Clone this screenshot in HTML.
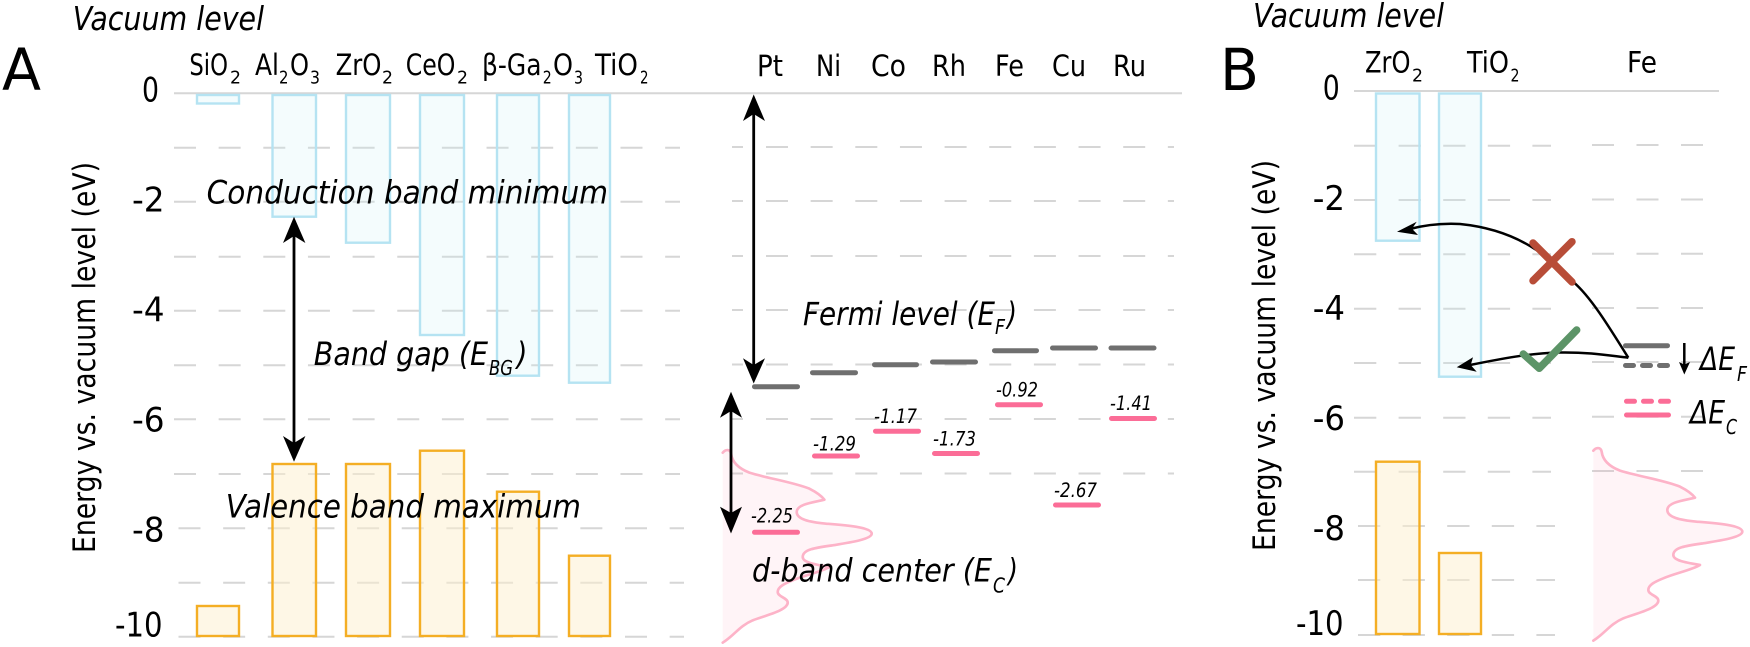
<!DOCTYPE html>
<html><head><meta charset="utf-8"><style>
html,body{margin:0;padding:0;background:#fff}
svg{display:block}
text{font-family:"DejaVu Sans","Liberation Sans",sans-serif;fill:#000}
.i{font-style:italic}
.lab{font-size:29px}.sub{font-size:18px}
.tick{font-size:34px}
.big{font-size:32px;font-style:italic}
.bs{font-size:20px;font-style:italic}
.val{font-size:19.5px;font-style:italic}
</style></head><body>
<svg width="1750" height="647" viewBox="0 0 1750 647" xmlns="http://www.w3.org/2000/svg">
<rect width="1750" height="647" fill="#fff"/>
<g fill="none" stroke="#d6d6d6" stroke-width="2">
<path stroke-dasharray="22 22.65" d="M174 147.7H680M174 201.7H680M174 256.7H680M174 310.7H680M174 365.3H680M174 419.3H680M174 474H680"/>
<path stroke-dasharray="22 22.65" d="M178.5 528.3H684M178.5 582.7H684M178.5 636.7H684"/>
<path d="M732 147H743M732 201H743M732 256H743M732 310H743M732 364.5H743M732 419H743M732 473.5H743"/>
<path stroke-dasharray="22 22.65" d="M766 147H1174M766 201H1174M766 256H1174M766 310H1174M766 364.5H1174M766 419H1174M766 473.5H1174"/>
<path stroke-dasharray="22.3 22.3" d="M1354 145.7H1551M1354 200H1551M1354 254.3H1551M1354 308.7H1551M1354 363H1551M1354 417.7H1551M1354 471.7H1551"/>
<path stroke-dasharray="22.3 22.3" d="M1358 526H1555M1358 580H1555M1358 635H1555"/>
<path stroke-dasharray="22 22.5" d="M1592 145H1703M1592 199.5H1703M1592 253.7H1703M1592 308H1703M1592 362H1703M1592 416.7H1703M1592 471H1703"/>
<path d="M174 93.3H1182M1354 91H1719"/>
</g>
<g stroke="#b5e3f2" stroke-width="2.4" fill="#c6eef6" fill-opacity=".2">
<rect x="197" y="95" width="42" height="8.5"/>
<rect x="272.5" y="95" width="43.5" height="121.7"/>
<rect x="346" y="95" width="44" height="147.7"/>
<rect x="420" y="95" width="44" height="240"/>
<rect x="497" y="95" width="42" height="280.7"/>
<rect x="569" y="95" width="41" height="287.7"/>
<rect x="1376" y="93.5" width="43.5" height="147.2"/>
<rect x="1439" y="93.5" width="42" height="283.2"/>
</g>
<g stroke="#f4ae24" stroke-width="2.4" fill="#fdf0cd" fill-opacity=".5">
<rect x="197" y="606" width="42" height="30"/>
<rect x="272.5" y="464" width="43.5" height="172"/>
<rect x="346" y="464" width="44" height="172"/>
<rect x="420" y="450.7" width="44" height="185.3"/>
<rect x="497" y="491.7" width="42" height="144.3"/>
<rect x="569" y="555.7" width="41" height="80.3"/>
<rect x="1376" y="461.7" width="43.5" height="172.3"/>
<rect x="1439" y="553" width="42" height="81"/>
</g>
<g transform="matrix(.3333 0 0 .3333 709.4 432)">
<path fill="#fd98b4" fill-opacity=".1" d="M40,62 C48,52 62,50 65,65 C68,90 85,108 120,122 C170,138 250,150 300,170 C320,180 335,190 345,203 C320,210 262,215 262,240 C262,262 300,270 350,275 C400,279 487,285 487,305 C487,322 420,332 370,340 C320,347 280,352 280,375 C280,392 320,398 360,405 C335,420 285,430 250,445 C225,455 205,465 205,480 C205,495 235,497 235,512 C235,535 170,550 130,565 C90,582 75,610 40,632Z"/>
<path fill="none" stroke="#fdb3c8" stroke-width="8" stroke-linecap="round" stroke-linejoin="round" d="M40,62 C48,52 62,50 65,65 C68,90 85,108 120,122 C170,138 250,150 300,170 C320,180 335,190 345,203 C320,210 262,215 262,240 C262,262 300,270 350,275 C400,279 487,285 487,305 C487,322 420,332 370,340 C320,347 280,352 280,375 C280,392 320,398 360,405 C335,420 285,430 250,445 C225,455 205,465 205,480 C205,495 235,497 235,512 C235,535 170,550 130,565 C90,582 75,610 40,632"/>
</g>
<g transform="matrix(.3333 0 0 .3333 1580 430)">
<path fill="#fd98b4" fill-opacity=".1" d="M40,62 C48,52 62,50 65,65 C68,90 85,108 120,122 C170,138 250,150 300,170 C320,180 335,190 345,203 C320,210 262,215 262,240 C262,262 300,270 350,275 C400,279 487,285 487,305 C487,322 420,332 370,340 C320,347 280,352 280,375 C280,392 320,398 360,405 C335,420 285,430 250,445 C225,455 205,465 205,480 C205,495 235,497 235,512 C235,535 170,550 130,565 C90,582 75,610 40,632Z"/>
<path fill="none" stroke="#fdb3c8" stroke-width="8" stroke-linecap="round" stroke-linejoin="round" d="M40,62 C48,52 62,50 65,65 C68,90 85,108 120,122 C170,138 250,150 300,170 C320,180 335,190 345,203 C320,210 262,215 262,240 C262,262 300,270 350,275 C400,279 487,285 487,305 C487,322 420,332 370,340 C320,347 280,352 280,375 C280,392 320,398 360,405 C335,420 285,430 250,445 C225,455 205,465 205,480 C205,495 235,497 235,512 C235,535 170,550 130,565 C90,582 75,610 40,632"/>
</g>
<g fill="none" stroke="#6f6f6f" stroke-width="5" stroke-linecap="round">
<path d="M754.5 386.7H797.5M812.5 372.7H855.5M874.5 364.7H916.5M932.5 362H975.5M994.5 350.7H1036.5M1052.5 348H1095.5M1111 348H1154"/>
<path d="M1625.5 345.7H1667.5M1625.5 365.5H1633.5M1642.5 365.5H1650.5M1659.5 365.5H1667.5"/>
</g>
<g fill="none" stroke="#fb6d97" stroke-width="5" stroke-linecap="round">
<path d="M754.5 532.3H797.5M814.5 456H857.5M875.5 431.2H918.5M934.5 453.5H977.5M997.5 404.7H1040.5M1055.5 505H1098.5M1111.5 418.5H1154.5"/>
<path d="M1626.5 401.3H1634.5M1643.5 401.3H1651.5M1660.5 401.3H1668.5M1626.5 415H1668.5"/>
</g>
<g stroke="#000" stroke-width="2.8" fill="none">
<path d="M294 232V448M753.7 110V370M731 406V518"/>
</g>
<g fill="#000">
<polygon points="294,216.7 283,243 294,236 305.4,243"/>
<polygon points="294,461.7 283,436 294,443 305.4,436"/>
<polygon points="753.7,94.5 743,121 753.7,114 765,121"/>
<polygon points="753.7,383.5 743,358.3 753.7,365 765,358.3"/>
<polygon points="731,391.7 720,417.7 731,411 742,417.7"/>
<polygon points="731,533.5 720,506.7 731,513 742,506.7"/>
<polygon points="1397,231.7 1416.7,221.7 1412,228.7 1418,235"/>
<polygon points="1456.7,367.3 1473,357.3 1470.7,365 1476.7,371.7"/>
<polygon points="1684.3,374.5 1679,362 1684.3,364.5 1690,362"/>
</g>
<g fill="none" stroke="#000" stroke-width="2.5">
<path d="M1628.3 357.7C1608 325 1590 296 1573 281.7C1550 258 1520 230 1460 224C1440 223 1425 225 1410 229"/>
<path d="M1628.3 357.7C1612 356 1590 352 1560 352.5C1530 353 1500 359 1470 365"/>
<path d="M1684.3 343V366"/>
</g>
<g fill="none" stroke-linecap="round" stroke-linejoin="round" stroke-width="7.5">
<path stroke="#b84d38" d="M1533 243L1572 282M1572 241.7L1533 280.7"/>
<path stroke="#5c9467" d="M1523.3 354L1539.3 368.3L1576.7 330"/>
</g>

<text class="big" font-size="33" style="font-size:33px" x="72.7" y="30" textLength="191.3" lengthAdjust="spacingAndGlyphs">Vacuum level</text>
<text class="big" style="font-size:33px" x="1253" y="27" textLength="191" lengthAdjust="spacingAndGlyphs">Vacuum level</text>
<text x="2" y="90" font-size="58" textLength="39" lengthAdjust="spacingAndGlyphs">A</text>
<text x="1220" y="90" font-size="58" textLength="39" lengthAdjust="spacingAndGlyphs">B</text>

<g>
<text class="lab" x="189.4" y="75" textLength="38.6" lengthAdjust="spacingAndGlyphs">SiO</text><text class="sub" x="230" y="83.5" textLength="11" lengthAdjust="spacingAndGlyphs">2</text>
<text class="lab" x="255" y="75" textLength="24" lengthAdjust="spacingAndGlyphs">Al</text><text class="sub" x="279" y="83.5" textLength="9.5" lengthAdjust="spacingAndGlyphs">2</text><text class="lab" x="290" y="75" textLength="19" lengthAdjust="spacingAndGlyphs">O</text><text class="sub" x="310" y="83.5" textLength="10" lengthAdjust="spacingAndGlyphs">3</text>
<text class="lab" x="335.6" y="75" textLength="45.9" lengthAdjust="spacingAndGlyphs">ZrO</text><text class="sub" x="382" y="83.5" textLength="11" lengthAdjust="spacingAndGlyphs">2</text>
<text class="lab" x="405.7" y="75" textLength="49.7" lengthAdjust="spacingAndGlyphs">CeO</text><text class="sub" x="457" y="83.5" textLength="11" lengthAdjust="spacingAndGlyphs">2</text>
<text class="lab" x="482" y="75" textLength="59.5" lengthAdjust="spacingAndGlyphs">β-Ga</text><text class="sub" x="542.7" y="83.5" textLength="9" lengthAdjust="spacingAndGlyphs">2</text><text class="lab" x="553" y="75" textLength="20" lengthAdjust="spacingAndGlyphs">O</text><text class="sub" x="574" y="83.5" textLength="9" lengthAdjust="spacingAndGlyphs">3</text>
<text class="lab" x="595" y="75" textLength="43" lengthAdjust="spacingAndGlyphs">TiO</text><text class="sub" x="640" y="83.5" textLength="8.5" lengthAdjust="spacingAndGlyphs">2</text>
<text class="lab" x="757" y="76" textLength="26" lengthAdjust="spacingAndGlyphs">Pt</text>
<text class="lab" x="816" y="76" textLength="25" lengthAdjust="spacingAndGlyphs">Ni</text>
<text class="lab" x="871" y="76" textLength="35" lengthAdjust="spacingAndGlyphs">Co</text>
<text class="lab" x="932" y="76" textLength="34" lengthAdjust="spacingAndGlyphs">Rh</text>
<text class="lab" x="995" y="76" textLength="29" lengthAdjust="spacingAndGlyphs">Fe</text>
<text class="lab" x="1052" y="76" textLength="34" lengthAdjust="spacingAndGlyphs">Cu</text>
<text class="lab" x="1113" y="76" textLength="33" lengthAdjust="spacingAndGlyphs">Ru</text>
<text class="lab" x="1365" y="72.7" textLength="45.5" lengthAdjust="spacingAndGlyphs">ZrO</text><text class="sub" x="1412" y="81.7" textLength="11" lengthAdjust="spacingAndGlyphs">2</text>
<text class="lab" x="1467" y="72.7" textLength="42" lengthAdjust="spacingAndGlyphs">TiO</text><text class="sub" x="1510.5" y="81.7" textLength="9" lengthAdjust="spacingAndGlyphs">2</text>
<text class="lab" x="1627" y="72.7" textLength="30" lengthAdjust="spacingAndGlyphs">Fe</text>
</g>

<g>
<text class="tick" x="142" y="101.7" textLength="17" lengthAdjust="spacingAndGlyphs">0</text>
<text class="tick" x="132" y="211.7" textLength="32.6" lengthAdjust="spacingAndGlyphs">-2</text>
<text class="tick" x="132" y="321.7" textLength="32.6" lengthAdjust="spacingAndGlyphs">-4</text>
<text class="tick" x="132" y="431.7" textLength="32.6" lengthAdjust="spacingAndGlyphs">-6</text>
<text class="tick" x="132" y="541.7" textLength="32.6" lengthAdjust="spacingAndGlyphs">-8</text>
<text class="tick" x="115" y="636.7" textLength="47.6" lengthAdjust="spacingAndGlyphs">-10</text>
<text class="tick" x="1322.8" y="99.3" textLength="17" lengthAdjust="spacingAndGlyphs">0</text>
<text class="tick" x="1312.7" y="210" textLength="32.3" lengthAdjust="spacingAndGlyphs">-2</text>
<text class="tick" x="1312.7" y="320" textLength="32.3" lengthAdjust="spacingAndGlyphs">-4</text>
<text class="tick" x="1312.7" y="430" textLength="32.3" lengthAdjust="spacingAndGlyphs">-6</text>
<text class="tick" x="1312.7" y="540" textLength="32.3" lengthAdjust="spacingAndGlyphs">-8</text>
<text class="tick" x="1296" y="635" textLength="47.6" lengthAdjust="spacingAndGlyphs">-10</text>
</g>
<text font-size="31" transform="translate(95 553) rotate(-90)" textLength="391" lengthAdjust="spacingAndGlyphs">Energy vs. vacuum level (eV)</text>
<text font-size="31" transform="translate(1275 551) rotate(-90)" textLength="391" lengthAdjust="spacingAndGlyphs">Energy vs. vacuum level (eV)</text>

<text class="big" x="206.6" y="203.3" textLength="401.4" lengthAdjust="spacingAndGlyphs">Conduction band minimum</text>
<text class="big" x="225.8" y="517.7" textLength="355.2" lengthAdjust="spacingAndGlyphs">Valence band maximum</text>
<text class="big" x="313.8" y="365" textLength="174.2" lengthAdjust="spacingAndGlyphs">Band gap (E</text><text class="bs" x="489" y="375" textLength="24" lengthAdjust="spacingAndGlyphs">BG</text><text class="big" x="516.6" y="365" textLength="10.8" lengthAdjust="spacingAndGlyphs">)</text>
<text class="big" x="803" y="325" textLength="192" lengthAdjust="spacingAndGlyphs">Fermi level (E</text><text class="bs" x="995" y="334" textLength="10" lengthAdjust="spacingAndGlyphs">F</text><text class="big" x="1007" y="325" textLength="10" lengthAdjust="spacingAndGlyphs">)</text>
<text class="big" x="752" y="581.7" textLength="240" lengthAdjust="spacingAndGlyphs">d-band center (E</text><text class="bs" x="993" y="592.7" textLength="12" lengthAdjust="spacingAndGlyphs">C</text><text class="big" x="1008" y="581.7" textLength="10" lengthAdjust="spacingAndGlyphs">)</text>
<text class="big" x="1700" y="370" textLength="35" lengthAdjust="spacingAndGlyphs">ΔE</text><text class="bs" x="1737" y="381" textLength="10" lengthAdjust="spacingAndGlyphs">F</text>
<text class="big" x="1690" y="423.3" textLength="35" lengthAdjust="spacingAndGlyphs">ΔE</text><text class="bs" x="1726" y="434" textLength="11" lengthAdjust="spacingAndGlyphs">C</text>

<text class="val" x="751" y="522.7" textLength="42" lengthAdjust="spacingAndGlyphs">-2.25</text>
<text class="val" x="813" y="450.7" textLength="43" lengthAdjust="spacingAndGlyphs">-1.29</text>
<text class="val" x="874" y="423" textLength="43" lengthAdjust="spacingAndGlyphs">-1.17</text>
<text class="val" x="933" y="445.7" textLength="43" lengthAdjust="spacingAndGlyphs">-1.73</text>
<text class="val" x="996" y="396.7" textLength="42" lengthAdjust="spacingAndGlyphs">-0.92</text>
<text class="val" x="1054" y="497" textLength="43" lengthAdjust="spacingAndGlyphs">-2.67</text>
<text class="val" x="1110" y="410" textLength="42" lengthAdjust="spacingAndGlyphs">-1.41</text>
</svg>
</body></html>
